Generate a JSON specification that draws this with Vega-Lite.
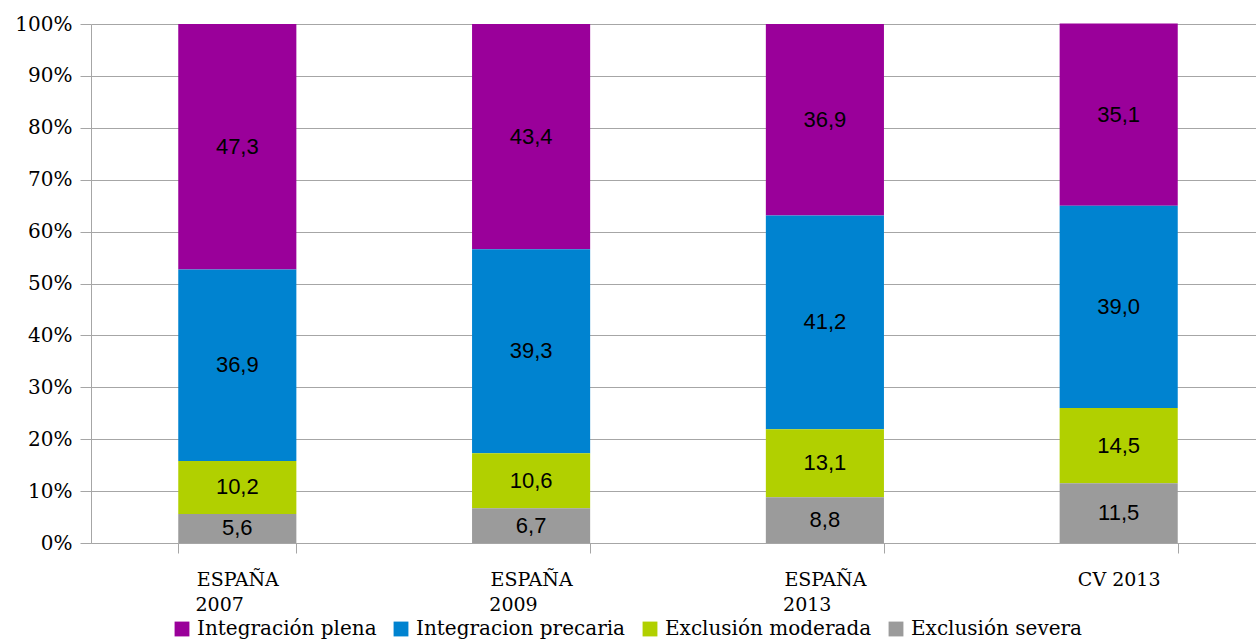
{
  "$schema": "https://vega.github.io/schema/vega-lite/v6.json",
  "autosize": {"type": "none"},
  "width": 1174,
  "height": 519,
  "padding": {"left": 91, "top": 24, "right": 0, "bottom": 98},
  "background": "white",
  "config": {
    "view": {"stroke": null},
    "locale": {"number": {"decimal": ",", "thousands": ".", "grouping": [3], "currency": ["", " €"]}},
    "axisY": {
      "labelFont": "DejaVu Serif",
      "labelFontSize": 20,
      "labelColor": "#000000",
      "labelPadding": 8,
      "tickSize": 11,
      "tickColor": "#a6a6a6",
      "domainColor": "#a6a6a6",
      "gridColor": "#a6a6a6",
      "gridWidth": 1
    }
  },
  "data": {
    "values": [
      {"grupo": "ESPAÑA 2007", "categoria": "Integración plena", "orden": 4, "valor": 47.3},
      {"grupo": "ESPAÑA 2007", "categoria": "Integracion precaria", "orden": 3, "valor": 36.9},
      {"grupo": "ESPAÑA 2007", "categoria": "Exclusión moderada", "orden": 2, "valor": 10.2},
      {"grupo": "ESPAÑA 2007", "categoria": "Exclusión severa", "orden": 1, "valor": 5.6},
      {"grupo": "ESPAÑA 2009", "categoria": "Integración plena", "orden": 4, "valor": 43.4},
      {"grupo": "ESPAÑA 2009", "categoria": "Integracion precaria", "orden": 3, "valor": 39.3},
      {"grupo": "ESPAÑA 2009", "categoria": "Exclusión moderada", "orden": 2, "valor": 10.6},
      {"grupo": "ESPAÑA 2009", "categoria": "Exclusión severa", "orden": 1, "valor": 6.7},
      {"grupo": "ESPAÑA 2013", "categoria": "Integración plena", "orden": 4, "valor": 36.9},
      {"grupo": "ESPAÑA 2013", "categoria": "Integracion precaria", "orden": 3, "valor": 41.2},
      {"grupo": "ESPAÑA 2013", "categoria": "Exclusión moderada", "orden": 2, "valor": 13.1},
      {"grupo": "ESPAÑA 2013", "categoria": "Exclusión severa", "orden": 1, "valor": 8.8},
      {"grupo": "CV 2013", "categoria": "Integración plena", "orden": 4, "valor": 35.1},
      {"grupo": "CV 2013", "categoria": "Integracion precaria", "orden": 3, "valor": 39.0},
      {"grupo": "CV 2013", "categoria": "Exclusión moderada", "orden": 2, "valor": 14.5},
      {"grupo": "CV 2013", "categoria": "Exclusión severa", "orden": 1, "valor": 11.5}
    ]
  },
  "transform": [
    {"stack": "valor", "groupby": ["grupo"], "sort": [{"field": "orden", "order": "ascending"}], "as": ["y0", "y1"]},
    {"calculate": "(datum.y0 + datum.y1) / 2", "as": "ymid"}
  ],
  "encoding": {
    "x": {
      "field": "grupo",
      "type": "nominal",
      "sort": ["ESPAÑA 2007", "ESPAÑA 2009", "ESPAÑA 2013", "CV 2013"],
      "scale": {"paddingInner": 0.598, "paddingOuter": 0.297},
      "axis": {
        "title": null,
        "labelAngle": 0,
        "labelFont": "DejaVu Serif",
        "labelFontSize": 19,
        "labelColor": "#000000",
        "labelPadding": 17,
        "labelLineHeight": 25,
        "labelExpr": "indexof(datum.label, 'ESPAÑA') == 0 ? ['ESPAÑA', slice(datum.label, 7) + '\u00a0\u00a0\u00a0\u00a0\u00a0\u00a0\u200b'] : datum.label",
        "tickBand": "extent",
        "tickSize": 10,
        "tickColor": "#a6a6a6",
        "domainColor": "#a6a6a6",
        "grid": false
      }
    }
  },
  "layer": [
    {
      "mark": {"type": "bar"},
      "encoding": {
        "y": {
          "field": "y0",
          "type": "quantitative",
          "scale": {"domain": [0, 100], "nice": false},
          "axis": {
            "title": null,
            "values": [0, 10, 20, 30, 40, 50, 60, 70, 80, 90, 100],
            "labelExpr": "datum.value + '%'"
          }
        },
        "y2": {"field": "y1"},
        "color": {
          "field": "categoria",
          "type": "nominal",
          "scale": {
            "domain": ["Integración plena", "Integracion precaria", "Exclusión moderada", "Exclusión severa"],
            "range": ["#9a009a", "#0083d0", "#b1d000", "#9b9b9b"]
          },
          "legend": {
            "title": null,
            "orient": "none",
            "legendX": 81,
            "legendY": 595,
            "direction": "horizontal",
            "symbolType": "square",
            "symbolSize": 220,
            "symbolStrokeWidth": 0,
            "labelFont": "DejaVu Serif",
            "labelFontSize": 20,
            "labelColor": "#000000",
            "labelOffset": 5,
            "columnPadding": 14,
            "labelLimit": 400
          }
        }
      }
    },
    {
      "mark": {"type": "text", "font": "Liberation Sans", "fontSize": 22, "color": "#000000", "baseline": "middle"},
      "encoding": {
        "y": {"field": "ymid", "type": "quantitative"},
        "text": {"field": "valor", "type": "quantitative", "format": ".1f"}
      }
    }
  ]
}
